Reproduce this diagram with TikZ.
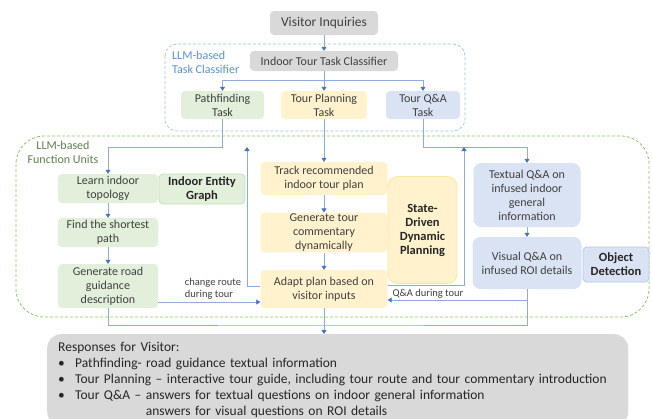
\documentclass[tikz,border=0pt]{standalone}
\usepackage{fontspec}
\setmainfont{Carlito}
\usetikzlibrary{arrows.meta}
\definecolor{boxgray}{HTML}{D9D9D9}
\definecolor{pfgreen}{HTML}{E2EFDA}
\definecolor{pfline}{HTML}{C5E0B4}
\definecolor{tpyellow}{HTML}{FFF2CC}
\definecolor{tpline}{HTML}{FFE699}
\definecolor{qablue}{HTML}{DAE3F3}
\definecolor{qaline}{HTML}{B4C7E7}
\definecolor{wireblue}{HTML}{8FAADC}
\definecolor{tipblue}{HTML}{4472C4}
\definecolor{clsblue}{HTML}{9DC3E6}
\definecolor{clstext}{HTML}{5B8FD0}
\definecolor{fugreen}{HTML}{8CC866}
\definecolor{futext}{HTML}{5E7F4A}
\definecolor{boxtext}{HTML}{404040}
\tikzstyle{box}=[rounded corners=4pt,align=center,inner sep=1pt,text=boxtext,font=\fontsize{12}{14}\selectfont]
\tikzstyle{graybox}=[box,fill=boxgray]
\tikzstyle{pfbox}=[box,fill=pfgreen]
\tikzstyle{tpbox}=[box,fill=tpyellow]
\tikzstyle{qabox}=[box,fill=qablue]
\tikzstyle{toolbox}=[box,line width=0.8pt,text=black!85,font=\bfseries\fontsize{12.5}{14}\selectfont]
\tikzstyle{respbox}=[rounded corners=14pt,fill=boxgray,align=left,inner xsep=11pt,inner ysep=8pt,text=black!85,font=\fontsize{13.5}{16}\selectfont]
\tikzstyle{wire}=[wireblue,line width=0.8pt]
\tikzstyle{note}=[inner sep=0pt,align=left,text=boxtext,font=\fontsize{10.5}{12}\selectfont]
\tikzstyle{grouplabel}=[inner sep=0pt,font=\fontsize{12}{14}\selectfont]

\begin{document}
\begin{tikzpicture}[x=1pt,y=-1pt,>={Triangle[length=4pt,width=5pt,color=tipblue]}]
\useasboundingbox (0,0) rectangle (652,418);
\clip (0,0) rectangle (652,418);

\draw[clsblue,line width=0.7pt,dash pattern=on 3pt off 2pt,rounded corners=12pt] (165,44) rectangle (465,131);
\draw[fugreen,line width=0.8pt,dash pattern=on 3pt off 2pt,rounded corners=28pt] (16,136) rectangle (649,317);
\node[grouplabel,text=clstext,align=left,anchor=north west] (clslabel) at (172,51) {LLM-based\\Task Classifier};
\node[grouplabel,text=futext,align=center,anchor=north] (fulabel) at (63,141) {LLM-based\\Function Units};

\node[graybox,minimum width=108pt,minimum height=24pt,font=\fontsize{13.5}{15}\selectfont] (visitor) at (324,23) {Visitor Inquiries};
\node[graybox,minimum width=148pt,minimum height=20pt] (classifier) at (324,61) {Indoor Tour Task Classifier};
\node[pfbox,minimum width=83pt,minimum height=28pt] (pftask) at (222.5,105) {Pathfinding\\Task};
\node[tpbox,minimum width=86pt,minimum height=28pt] (tptask) at (324,105) {Tour Planning\\Task};
\node[qabox,minimum width=74pt,minimum height=28pt] (qatask) at (423,105) {Tour Q\&A\\Task};

\node[pfbox,minimum width=100pt,minimum height=29pt] (learn) at (108,188.5) {Learn indoor\\topology};
\node[toolbox,fill=pfgreen,draw=pfline,minimum width=86pt,minimum height=30pt] (graph) at (202,189) {Indoor Entity\\Graph};
\node[pfbox,minimum width=100pt,minimum height=29pt] (shortest) at (108,232.5) {Find the shortest\\path};
\node[pfbox,minimum width=100pt,minimum height=44pt] (road) at (108,286) {Generate road\\guidance\\description};

\node[tpbox,minimum width=127pt,minimum height=33pt] (track) at (324,178.5) {Track recommended\\indoor tour plan};
\node[tpbox,minimum width=127pt,minimum height=39pt] (commentary) at (324,232.5) {Generate tour\\commentary\\dynamically};
\node[tpbox,minimum width=127pt,minimum height=38pt] (adapt) at (324,289) {Adapt plan based on\\visitor inputs};
\node[toolbox,fill=tpyellow,draw=tpline,rounded corners=10pt,minimum width=69pt,minimum height=107pt] (state) at (422.5,230) {State-\\Driven\\Dynamic\\Planning};

\node[qabox,rounded corners=8pt,minimum width=107pt,minimum height=64pt] (textqa) at (527,195) {Textual Q\&A on\\infused indoor\\general\\information};
\node[qabox,rounded corners=8pt,minimum width=109pt,minimum height=52pt] (visualqa) at (527,263) {Visual Q\&A on\\infused ROI details};
\node[toolbox,fill=qablue,draw=qaline,minimum width=66pt,minimum height=35pt] (objdet) at (616,264.5) {Object\\Detection};

\node[respbox,anchor=north west,text width=559pt] (resp) at (47,334) {Responses for Visitor:\\
\makebox[17pt][l]{\textbullet}Pathfinding- road guidance textual information\\
\makebox[17pt][l]{\textbullet}Tour Planning -- interactive tour guide, including tour route and tour commentary introduction\\
\makebox[17pt][l]{\textbullet}Tour Q\&A -- answers for textual questions on indoor general information\\
\hphantom{\makebox[17pt][l]{\textbullet}Tour Q\&A -- }answers for visual questions on ROI details};

\coordinate (split) at (324,80);
\coordinate (pfrow) at (108,147);
\coordinate (chgtop) at (247,147);
\coordinate (qarow) at (527,147);
\coordinate (qatop) at (464,147);
\coordinate (qajoin) at (527,300);
\coordinate (merge) at (324,325);

\draw[wire,->] (visitor) -- (classifier);
\draw[wire,->] (classifier) -- (tptask);
\draw[wire,->] (split) -| (pftask);
\draw[wire,->] (split) -| (qatask);

\draw[wire,->] (pftask) |- (pfrow) -- (learn);
\draw[wire,->] (learn) -- (shortest);
\draw[wire,->] (shortest) -- (road);
\draw[wire,->] ([yshift=-16pt]road.east) -- ([yshift=-16pt]road.east -| adapt.west);
\draw[wire,->] ([yshift=3pt]adapt.west) -| (chgtop);
\node[note] (chglabel) at (213,289) {change route\\during tour};

\draw[wire,->] (tptask) -- (track);
\draw[wire,->] (track) -- (commentary);
\draw[wire,->] (commentary) -- (adapt);

\draw[wire,->] (qatask) |- (qarow) -- (textqa);
\draw[wire,->] (textqa) -- (visualqa);
\draw[wire,->] ([yshift=4pt]adapt.east) -| (qatop);
\draw[wire,->] (qajoin) -- (qajoin -| adapt.east);
\node[note] (qalabel) at (428,294) {Q\&A during tour};

\draw[wire] (road) |- (merge) -| (visualqa);
\draw[wire,->] (adapt) -- (adapt |- resp.north);
\end{tikzpicture}
\end{document}
